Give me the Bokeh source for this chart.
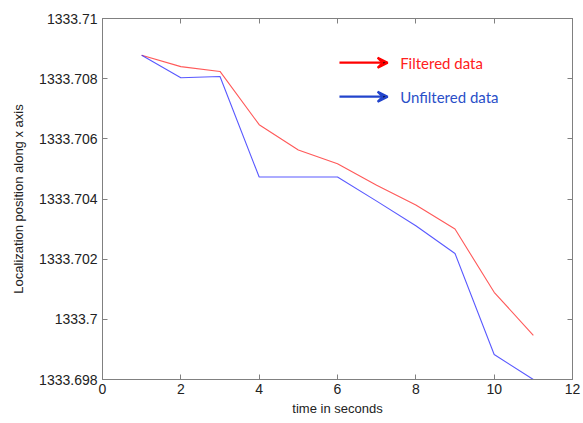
from bokeh.plotting import figure
from bokeh.models import Range1d, FixedTicker, LinearAxis, Arrow, VeeHead, Label, CustomJSTickFormatter
from bokeh.embed import file_html
from bokeh.resources import INLINE

time_s = [1, 2, 3, 4, 5, 6, 7, 8, 9, 10, 11]
filtered = [1333.70878, 1333.70840, 1333.70824, 1333.70647, 1333.70563, 1333.70517,
            1333.70446, 1333.70380, 1333.70300, 1333.70090, 1333.69947]
unfiltered = [1333.70878, 1333.70803, 1333.70807, 1333.70473, 1333.70473, 1333.70473,
              1333.70393, 1333.70311, 1333.70219, 1333.69883, 1333.69800]

x_ticks = [0, 2, 4, 6, 8, 10, 12]
y_ticks = [1333.698, 1333.700, 1333.702, 1333.704, 1333.706, 1333.708, 1333.710]
y_tick_labels = ["1333.698", "1333.7", "1333.702", "1333.704", "1333.706", "1333.708", "1333.71"]

legend_labels = ["Filtered data", "Unfiltered data"]

FONT = "Liberation Sans"
GREY = "#808080"

p = figure(width=581, height=421, output_backend="svg", toolbar_location=None,
           x_range=Range1d(0, 12), y_range=Range1d(1333.698, 1333.710),
           min_border_left=102, min_border_right=9, min_border_top=18, min_border_bottom=42)
p.background_fill_color = "white"
p.border_fill_color = "white"
p.outline_line_color = GREY
p.grid.visible = False

p.line(time_s, filtered, line_color="#ff3030", line_width=1.1, line_alpha=0.8)
p.line(time_s, unfiltered, line_color="#3030ff", line_width=1.1, line_alpha=0.8)

for ax in p.xaxis:
    ax.ticker = FixedTicker(ticks=x_ticks)
    ax.axis_label = "time in seconds"
for ax in p.yaxis:
    ax.ticker = FixedTicker(ticks=y_ticks)
    ax.major_label_overrides = {t: s for t, s in zip(y_ticks, y_tick_labels)}
    ax.axis_label = "Localization position along x axis"

for ax in list(p.xaxis) + list(p.yaxis):
    ax.axis_line_color = GREY
    ax.major_tick_line_color = GREY
    ax.major_tick_in = 5
    ax.major_tick_out = 0
    ax.minor_tick_line_color = None
    ax.major_label_text_font = FONT
    ax.major_label_text_font_size = "14px"
    ax.major_label_text_color = "#222222"
    ax.axis_label_text_font = FONT
    ax.axis_label_text_font_size = "13px"
    ax.axis_label_text_font_style = "normal"
    ax.axis_label_text_color = "#222222"
p.xaxis.major_label_standoff = 4
p.xaxis.axis_label_standoff = 4
p.yaxis.major_label_standoff = 5
p.yaxis.axis_label_standoff = 10

blank = CustomJSTickFormatter(code="return ''")
right = LinearAxis(ticker=FixedTicker(ticks=y_ticks), formatter=blank, major_label_text_font_size="1px",
                   axis_line_color=GREY, major_tick_line_color=GREY, major_tick_in=5,
                   major_tick_out=0, minor_tick_line_color=None, major_label_standoff=0)
top = LinearAxis(ticker=FixedTicker(ticks=x_ticks), formatter=blank, major_label_text_font_size="1px",
                 axis_line_color=GREY, major_tick_line_color=GREY, major_tick_in=5,
                 major_tick_out=0, minor_tick_line_color=None, major_label_standoff=0)
p.add_layout(right, "right")
p.add_layout(top, "above")

# legend-like arrows with labels
p.add_layout(Arrow(x_start=6.05, y_start=1333.70853, x_end=7.28, y_end=1333.70853,
                   line_color="#ff0000", line_width=2.2,
                   end=VeeHead(size=10, line_color="#ff0000", line_width=2.2)))
p.add_layout(Arrow(x_start=6.05, y_start=1333.70740, x_end=7.28, y_end=1333.70740,
                   line_color="#2244cc", line_width=2.2,
                   end=VeeHead(size=10, line_color="#2244cc", line_width=2.2)))
p.add_layout(Label(x=7.6, y=1333.70853, text=legend_labels[0], text_font="Lato",
                   text_font_size="15px", text_color="#ff2020", text_baseline="middle"))
p.add_layout(Label(x=7.6, y=1333.70740, text=legend_labels[1], text_font="Lato",
                   text_font_size="15px", text_color="#2a4fc8", text_baseline="middle"))

open("out.html", "w").write(file_html(p, INLINE))
